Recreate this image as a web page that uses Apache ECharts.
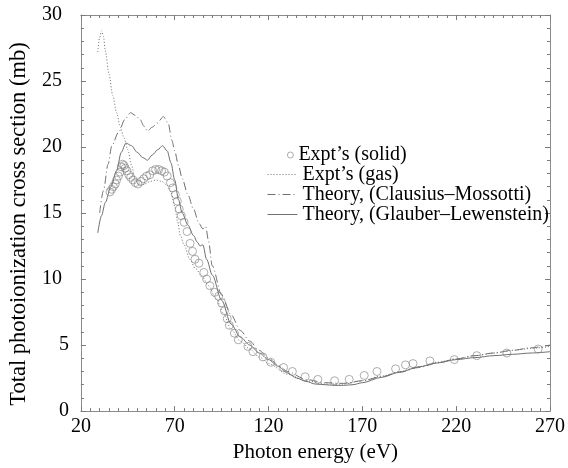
<!DOCTYPE html>
<html>
<head>
<meta charset="utf-8">
<script src="https://cdn.jsdelivr.net/npm/echarts@6/dist/echarts.min.js"></script>
<style>html,body{margin:0;padding:0;background:#fff}#c{width:568px;height:468px}</style>
</head>
<body>
<div id="c"></div>
<script>
// Expt's (solid) — circles
const solidExptE = [35.5,36.4,37.3,38.3,39,40,40.9,41.5,42.2,43,43.6,44.5,45.5,46.5,47.8,49,50.4,52,53.5,55,56.7,58.3,59.8,61.5,63,64.5,66,67.7,69,70.3,71.4,72.4,73.5,75,76.6,78.2,79.5,80.8,82.9,85.5,87,88.7,91.3,93.4,95,96.5,98,99.1,101.8,103.9,109,111.7,117,121.2,128,132.7,139.5,146.3,155.2,163,171,177.8,187.7,193,197,206,219,231,247,263.7];
const solidExptV = [16.6,16.8,17.0,17.2,17.5,17.8,18.1,18.5,18.7,18.6,18.4,18.2,17.9,17.7,17.5,17.3,17.2,17.4,17.6,17.8,17.9,18.2,18.3,18.3,18.2,18.1,17.8,17.3,16.9,16.4,15.9,15.3,14.8,14.3,13.6,12.7,12.1,11.5,11.2,10.5,10.0,9.5,9.0,8.7,8.2,7.6,7.0,6.5,5.9,5.4,4.9,4.5,4.1,3.7,3.3,3.0,2.6,2.4,2.3,2.4,2.7,3.0,3.2,3.5,3.6,3.8,3.9,4.2,4.4,4.7];

// Expt's (gas) — dotted
const gasE = [29,30,31,32,33,35,37,39,41,43,45,47,49,51,54,57,60,63,66,68,70,71.5,73,75,78,81,85,88,92,96,100,105,110,115,120,130,140,150,160,170,180,190,200,210,220,230,240,250,260,270];
const gasV = [27.2,28.3,28.8,28.4,27.3,25.5,23.9,22.6,21.5,20.7,19.8,18.6,17.5,17.1,17.2,17.4,17.5,17.4,17.1,16.6,15.5,14.4,13.3,12.6,11.5,10.8,10.1,9.5,8.5,7.4,6.2,5.3,4.7,4.1,3.6,2.8,2.3,2.05,2.05,2.3,2.65,3.0,3.35,3.7,3.95,4.2,4.4,4.6,4.75,4.9];

// Theory, (Clausius–Mossotti) — dash-dot
const cmE = [30,32,34.5,36.5,40,43.5,46.5,49,51.5,53.5,55.5,58,60.5,64,66.5,68.5,70,72,74,77,80,83,85,86.5,88,90,95,100,105,110,115,120,125,130,140,150,160,170,180,190,200,210,220,230,240,250,260,270];
const cmV = [15.0,16.7,18.7,20.1,21.1,22.1,22.6,22.4,22.1,21.6,21.2,21.5,21.8,22.3,21.8,20.5,19.7,18.6,17.6,16.4,15.3,14.2,13.8,14.0,12.9,11.0,8.8,7.3,6.1,5.3,4.6,4.0,3.5,3.0,2.4,2.15,2.1,2.3,2.6,2.95,3.3,3.65,3.95,4.2,4.4,4.6,4.8,5.0];

// Theory, (Glauber–Lewenstein) — solid
const glE = [29,31,33,36,39,41.5,44,47,50,53,55.5,58,61,63.5,66,68,70,72,74,77,80,82,83.5,85,87,90,95,100,105,110,115,120,125,130,135,140,145,150,155,160,165,170,180,190,200,210,220,230,240,250,260,270];
const glV = [13.5,14.8,15.8,17.0,18.2,19.6,20.3,20.1,19.6,19.2,19.0,19.4,19.8,20.1,19.7,18.8,17.5,16.0,15.0,14.1,13.3,12.8,12.5,12.6,11.5,10.3,8.4,6.6,5.6,5.0,4.4,3.9,3.4,2.9,2.5,2.25,2.05,2.0,1.95,1.95,2.0,2.15,2.55,2.95,3.35,3.65,3.9,4.05,4.2,4.3,4.4,4.5];

const xTicks = [20,70,120,170,220,270];
const yTicks = [0,5,10,15,20,25,30];

const names = ["Expt\u2019s (solid)","Expt\u2019s (gas)","Theory, (Clausius\u2013Mossotti)","Theory, (Glauber\u2013Lewenstein)"];

const zip = (a,b) => a.map((x,i)=>[x,b[i]]);
const FONT = 'Liberation Serif';
const AX = '#8c8c8c';
const TK = '#7a7a7a';
const LINE = '#707070';

const baseX = {
  type:'value', min:xTicks[0], max:xTicks[xTicks.length-1], interval:50,
  axisLine:{show:true,onZero:false,lineStyle:{color:AX,width:1}},
  axisTick:{show:true,inside:true,length:5,lineStyle:{color:TK,width:1}},
  minorTick:{show:true,splitNumber:10,length:3,lineStyle:{color:TK,width:1}},
  splitLine:{show:false}, minorSplitLine:{show:false}
};
const baseY = {
  type:'value', min:yTicks[0], max:yTicks[yTicks.length-1], interval:5,
  axisLine:{show:true,onZero:false,lineStyle:{color:AX,width:1}},
  axisTick:{show:true,inside:true,length:5,lineStyle:{color:TK,width:1}},
  minorTick:{show:true,splitNumber:5,length:3,lineStyle:{color:TK,width:1}},
  splitLine:{show:false}, minorSplitLine:{show:false}
};

const chart = echarts.init(document.getElementById('c'), null, {renderer:'canvas'});
chart.setOption({
  animation:false,
  backgroundColor:'#fff',
  grid:{left:77,right:14,top:15,bottom:55,containLabel:false},
  xAxis:[
    Object.assign({}, baseX, {position:'bottom',
      name:'Photon energy (eV)', nameLocation:'middle', nameGap:29,
      nameTextStyle:{fontFamily:FONT,fontSize:21,color:'#000'},
      axisLabel:{show:true,margin:6,fontFamily:FONT,fontSize:20,color:'#000'}}),
    Object.assign({}, baseX, {position:'top', axisLabel:{show:false}})
  ],
  yAxis:[
    Object.assign({}, baseY, {position:'left',
      name:'Total photoionization cross section (mb)', nameLocation:'middle', nameGap:44,
      nameTextStyle:{fontFamily:FONT,fontSize:22.5,color:'#000',padding:[0,22,0,0]},
      axisLabel:{show:true,margin:12,fontFamily:FONT,fontSize:20,color:'#000',
        formatter:v => (String(v).length>1 ? '{w|'+v+'}' : '{n|'+v+'}'),
        rich:{w:{fontFamily:FONT,fontSize:20,color:'#000',padding:[0,7,0,0]},
              n:{fontFamily:FONT,fontSize:20,color:'#000'}}}}),
    Object.assign({}, baseY, {position:'right', axisLabel:{show:false}})
  ],
  legend:[
    {data:[names[0]], orient:'vertical', left:282, top:140, itemWidth:6, itemHeight:6, itemGap:0,
     itemTextGap:10, itemStyle:{borderWidth:0.8}, textStyle:{fontFamily:FONT,fontSize:20,color:'#000',lineHeight:19.3}},
    {data:[names[1],names[2],names[3]], orient:'vertical', left:262, top:159.5, itemWidth:30, itemHeight:10,
     itemGap:0, itemTextGap:1, itemStyle:{opacity:0}, lineStyle:{width:1},
     textStyle:{fontFamily:FONT,fontSize:20,color:'#000',lineHeight:19.3}}
  ],
  series:[
    {name:names[0], type:'scatter', data:zip(solidExptE,solidExptV), symbol:'circle', symbolSize:8,
     itemStyle:{color:'rgba(255,255,255,0)',borderColor:'#808080',borderWidth:0.8}, z:5},
    {name:names[1], type:'line', data:zip(gasE,gasV), showSymbol:false, symbol:'none', smooth:0.3, smoothMonotone:'x',
     lineStyle:{color:LINE,width:1,type:[1,2]}, itemStyle:{color:LINE}},
    {name:names[2], type:'line', data:zip(cmE,cmV), showSymbol:false, symbol:'none', smooth:0.3, smoothMonotone:'x',
     lineStyle:{color:LINE,width:1,type:[8,3,1,3]}, itemStyle:{color:LINE}},
    {name:names[3], type:'line', data:zip(glE,glV), showSymbol:false, symbol:'none', smooth:0.3, smoothMonotone:'x',
     lineStyle:{color:LINE,width:1}, itemStyle:{color:LINE}}
  ]
});
</script>
</body>
</html>
